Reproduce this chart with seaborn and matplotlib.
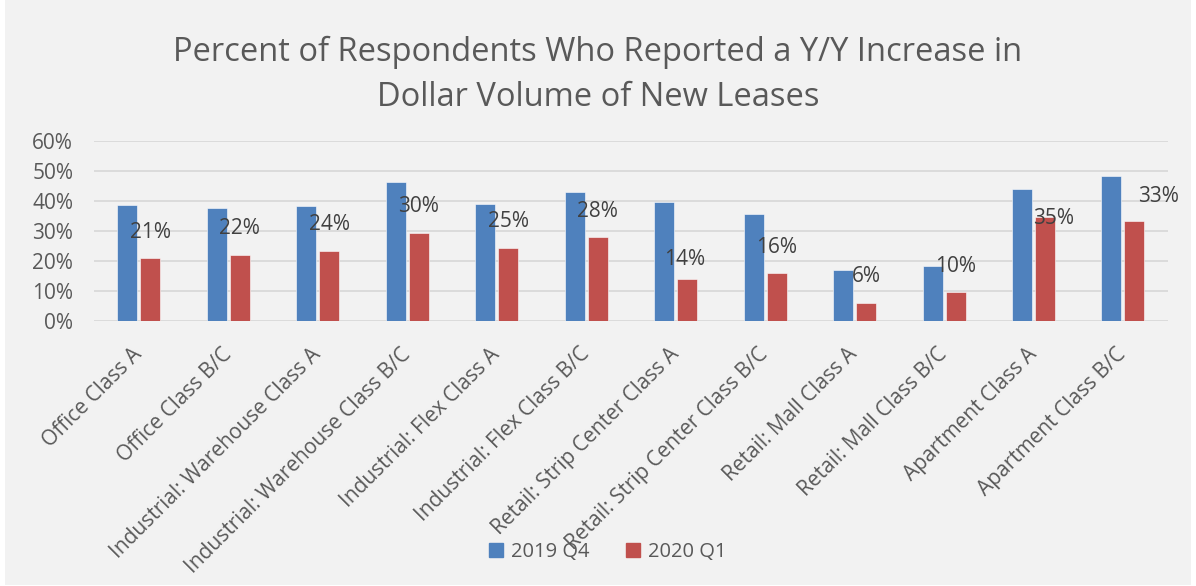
import matplotlib
matplotlib.use("Agg")
import matplotlib.pyplot as plt
import matplotlib.patches as mpatches
from matplotlib.ticker import PercentFormatter
import seaborn as sns
import pandas as pd

categories = ["Office Class A", "Office Class B/C", "Industrial: Warehouse Class A",
              "Industrial: Warehouse Class B/C", "Industrial: Flex Class A",
              "Industrial: Flex Class B/C", "Retail: Strip Center Class A",
              "Retail: Strip Center Class B/C", "Retail: Mall Class A",
              "Retail: Mall Class B/C", "Apartment Class A", "Apartment Class B/C"]
series_names = ["2019 Q4", "2020 Q1"]
values_2019q4 = [38.5, 37.7, 38.2, 46.4, 39.0, 43.0, 39.6, 35.6, 16.8, 18.4, 44.1, 48.4]
values_2020q1 = [20.8, 22.0, 23.2, 29.3, 24.3, 27.8, 14.0, 16.0, 6.0, 9.6, 34.7, 33.2]
labels_2020q1 = ["21%", "22%", "24%", "30%", "25%", "28%", "14%", "16%", "6%", "10%", "35%", "33%"]
yticks = [0, 10, 20, 30, 40, 50, 60]

# label offsets in points (dx, dy) relative to the red bar top
label_offsets = [(0, 19), (0, 19), (0, 19), (0, 19), (0, 19), (0, 19), (-2, 14),
                 (0, 18), (0, 19), (0, 18), (6, -1), (17, 18)]

df = pd.DataFrame({
    "Category": categories * 2,
    "Series": [series_names[0]] * len(categories) + [series_names[1]] * len(categories),
    "Value": values_2019q4 + values_2020q1,
})

sns.set_theme(style="white")
plt.rcParams["font.family"] = ["Open Sans", "DejaVu Sans"]
text_color = "#595959"
grid_color = "#D9D9D9"
bg = "#F2F2F2"

fig = plt.figure(figsize=(11.96, 5.86), dpi=100, facecolor="white")
bgpatch = mpatches.Rectangle((5 / 1196, 1 / 586), 1186 / 1196, 585 / 586,
                             transform=fig.transFigure, facecolor=bg,
                             edgecolor="none", zorder=-10)
fig.patches.append(bgpatch)
ax = fig.add_axes([94 / 1196, 1 - 320.7 / 586, (1167.7 - 94) / 1196, (320.7 - 141) / 586])
ax.set_facecolor(bg)

palette = {"2019 Q4": "#4F81BD", "2020 Q1": "#C0504D"}
sns.barplot(data=df, x="Category", y="Value", hue="Series", palette=palette,
            width=0.514, gap=0.13, ax=ax, legend=False, saturation=1,
            edgecolor="white", linewidth=0.4, zorder=3)

ax.set_ylim(0, 60)
ax.set_xlim(-0.5, len(categories) - 0.5)
ax.set_yticks(yticks)
ax.yaxis.set_major_formatter(PercentFormatter(decimals=0))
ax.grid(axis="y", color=grid_color, linewidth=1.3, zorder=0)
ax.set_axisbelow(True)
for s in ax.spines.values():
    s.set_visible(False)
ax.set_xlabel("")
ax.set_ylabel("")
ax.tick_params(axis="y", length=0, pad=15, labelsize=15, labelcolor=text_color)
ax.tick_params(axis="x", length=0, pad=22, labelsize=15, labelcolor=text_color)
plt.setp(ax.get_xticklabels(), rotation=45, ha="right", va="center", rotation_mode="anchor")

# data labels on 2020 Q1 bars
red_container = ax.containers[1]
for bar, lab, (dx, dy) in zip(red_container.patches, labels_2020q1, label_offsets):
    ax.annotate(lab, (bar.get_x() + bar.get_width() / 2, bar.get_height()),
                xytext=(dx, dy), textcoords="offset points", ha="center", va="center",
                fontsize=15, color="#404040", zorder=5)

fig.text(0.5, 1 - 52 / 586, "Percent of Respondents Who Reported a Y/Y Increase in",
         ha="center", va="center", fontsize=23.5, color=text_color)
fig.text(0.5, 1 - 98 / 586, "Dollar Volume of New Leases",
         ha="center", va="center", fontsize=23.5, color=text_color)

handles = [mpatches.Patch(color=palette[n], label=n) for n in series_names]
fig.legend(handles=handles, loc="center", bbox_to_anchor=(0.508, 1 - 551.7 / 586),
           ncol=2, frameon=False, fontsize=14.5, labelcolor=text_color,
           handlelength=0.7, handleheight=0.7, handletextpad=0.4, columnspacing=1.8)

fig.savefig("out.png", dpi=100, facecolor="white")
